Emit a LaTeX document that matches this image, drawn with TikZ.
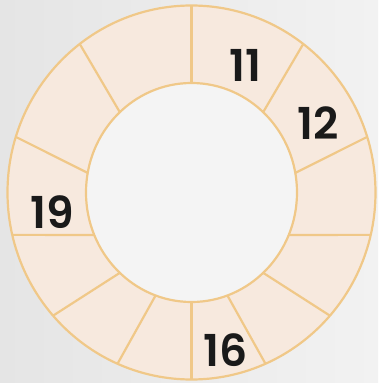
\documentclass[tikz,border=0pt]{standalone}
\usepackage{fontspec}
\newfontfamily\numfont{Poppins}[UprightFont={* SemiBold}]
\definecolor{bgA}{HTML}{E5E5E5}
\definecolor{bgB}{HTML}{F2F2F2}
\definecolor{ringfill}{HTML}{F7E9DE}
\definecolor{ringline}{HTML}{F0C888}
\definecolor{holefill}{HTML}{F4F4F4}
\definecolor{numcol}{HTML}{1A1A1A}
\tikzset{
  spoke/.style={draw=ringline, line width=2.2pt},
  rim/.style={draw=ringline, line width=2.2pt},
  num/.style={font=\numfont\fontsize{44}{44}\selectfont, text=numcol, inner sep=0pt}
}
\begin{document}
\begin{tikzpicture}[x=1pt,y=1pt]
\useasboundingbox (-191.5,-190.5) rectangle (186.5,192.5);
\shade[left color=bgA, right color=bgB] (-191.5,-190.5) rectangle (186.5,192.5);
% ring
\fill[ringfill, even odd rule] (0,0) ellipse [x radius=184, y radius=187] (0,0) ellipse [x radius=105.5, y radius=109.5];
\fill[holefill] (0,0) ellipse [x radius=105.5, y radius=109.5];
% spokes: inner angle / outer angle
\foreach \a/\b in {90/90, 47.2/52.6, 10.3/17.3, -22.8/-13.1, -47.2/-41.2, -70.1/-66.3, -90/-90,
                   132.8/127.4, 169.7/162.7, 202.8/193.1, 227.2/221.2, 250.1/246.3}
  \draw[spoke] (\a:105.5 and 109.5) -- (\b:184 and 187);
\draw[rim] (0,0) ellipse [x radius=184, y radius=187];
\draw[rim] (0,0) ellipse [x radius=105.5, y radius=109.5];
% labels
\node[num] (n11) at (53.5,127.5) {11};
\node[num] (n12) at (126.5,69.5) {12};
\node[num] (n19) at (-139.5,-19.5) {19};
\node[num] (n16) at (34.5,-157.5) {16};
\end{tikzpicture}
\end{document}
